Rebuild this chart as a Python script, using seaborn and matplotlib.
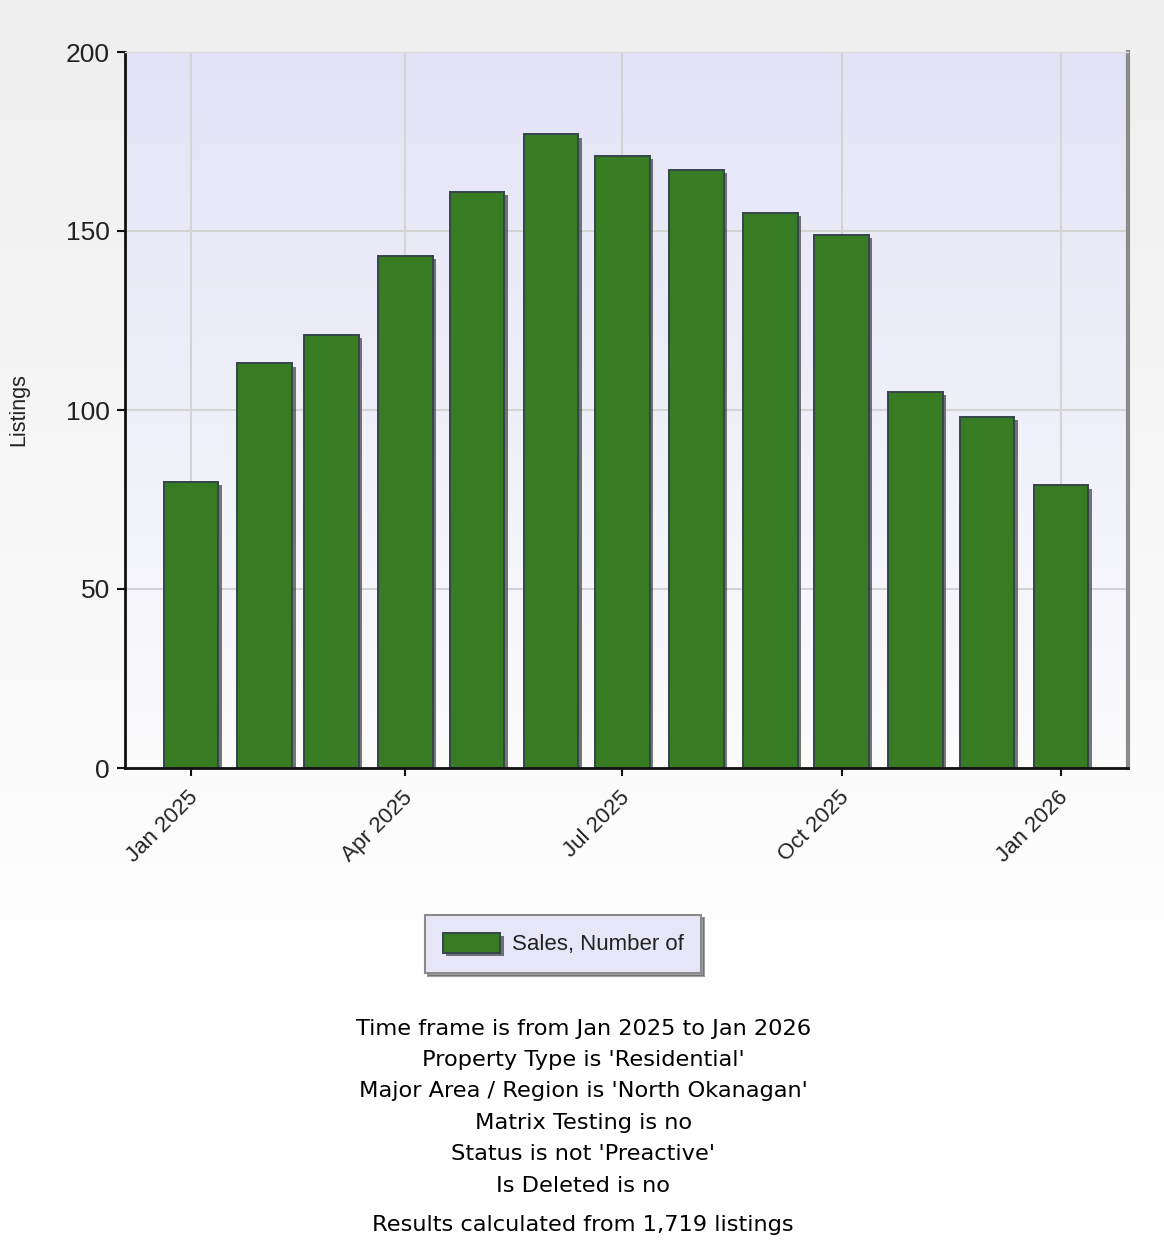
import numpy as np
import pandas as pd
import matplotlib
matplotlib.use('Agg')
import matplotlib.pyplot as plt
import matplotlib.dates as mdates
import matplotlib.patheffects as pe
import matplotlib.transforms as mtransforms
from matplotlib.colors import to_rgb
import seaborn as sns

# Monthly sales counts (North Okanagan, residential)
months = ['2025-01', '2025-02', '2025-03', '2025-04', '2025-05', '2025-06', '2025-07',
          '2025-08', '2025-09', '2025-10', '2025-11', '2025-12', '2026-01']
sales = [80, 113, 121, 143, 161, 177, 171, 167, 155, 149, 105, 98, 79]
series_name = 'Sales, Number of'
y_ticks = [0, 50, 100, 150, 200]
footer = ["Time frame is from Jan 2025 to Jan 2026",
          "Property Type is 'Residential'",
          "Major Area / Region is 'North Okanagan'",
          "Matrix Testing is no",
          "Status is not 'Preactive'",
          "Is Deleted is no"]
footer_last = "Results calculated from 1,719 listings"

df = pd.DataFrame({'date': mdates.date2num(pd.to_datetime(months)), 'sales': sales})

sns.set_style('white')
plt.rcParams['font.family'] = ['Liberation Sans', 'DejaVu Sans']

fig = plt.figure(figsize=(11.64, 12.6), dpi=100)
fig.patch.set_facecolor('white')

# Figure background gradient (light grey at top fading to white)
bg = fig.add_axes([0, 0, 1, 1], zorder=-5)
t = np.linspace(0, 1, 400)[:, None]
w = np.clip(t / 0.78, 0, 1)
top_c = np.array(to_rgb('#efefef'))
grad = top_c * (1 - w[..., None]) + np.ones(3) * w[..., None]
grad = np.repeat(grad, 2, axis=1)
bg.imshow(grad, aspect='auto', extent=[0, 1, 0, 1])
bg.axis('off')

ax = fig.add_axes([125 / 1164, 1 - 768 / 1260, 1003 / 1164, 716 / 1260])

# Plot-area gradient (lavender to near white)
t2 = np.linspace(0, 1, 400)[:, None]
c1 = np.array(to_rgb('#e3e3f7'))
c2 = np.array(to_rgb('#fcfcfd'))
grad2 = c1 * (1 - t2[..., None]) + c2 * t2[..., None]
grad2 = np.repeat(grad2, 2, axis=1)
ax.imshow(grad2, aspect='auto', extent=[0, 1, 0, 1], transform=ax.transAxes, zorder=0)

sns.barplot(data=df, x='date', y='sales', native_scale=True, width=0.82,
            color='#377c22', saturation=1, edgecolor='#34454c', linewidth=1.4,
            label=series_name, ax=ax, zorder=2)

shadow = [pe.SimplePatchShadow(offset=(2.4, -2.4), shadow_rgbFace='#3c3c3c', alpha=0.7), pe.Normal()]
for p in ax.patches:
    p.set_path_effects(shadow)

ax.set_xlim(mdates.date2num(pd.Timestamp('2024-12-04 08:00')),
            mdates.date2num(pd.Timestamp('2026-01-29 03:00')))
ax.set_ylim(0, 200)
ax.set_yticks(y_ticks)
ax.xaxis.set_major_locator(mdates.MonthLocator(bymonth=[1, 4, 7, 10]))
ax.xaxis.set_major_formatter(mdates.DateFormatter('%b %Y'))

ax.grid(True, color='#d4d4d4', linewidth=1.5, zorder=1)
ax.set_axisbelow(True)

for s in ['left', 'bottom']:
    ax.spines[s].set_color('#111111')
    ax.spines[s].set_linewidth(2)
ax.spines['right'].set_color('#8a8a8a')
ax.spines['right'].set_linewidth(3)
ax.spines['top'].set_color('#dcdcdc')
ax.spines['top'].set_linewidth(1)

ax.tick_params(axis='both', direction='out', length=6, width=1.5, color='#111111',
               labelcolor='#222222', pad=5, left=True, bottom=True)
ax.tick_params(axis='y', labelsize=19)
ax.tick_params(axis='x', labelsize=16, pad=13)
shift = mtransforms.ScaledTranslation(4 / 100, 0, fig.dpi_scale_trans)
for lab in ax.get_xticklabels():
    lab.set_rotation(45)
    lab.set_ha('right')
    lab.set_va('center')
    lab.set_rotation_mode('anchor')
    lab.set_transform(lab.get_transform() + shift)

ax.set_xlabel('')
ax.set_ylabel('Listings', fontsize=15.5, color='#222222')
ax.yaxis.set_label_coords(-0.095, 0.5)

leg = ax.legend(loc='center', bbox_to_anchor=(563 / 1164, 1 - 944 / 1260), bbox_transform=fig.transFigure,
                facecolor='#e6e6f8', edgecolor='#8a8a8a', framealpha=1, fancybox=False, shadow=True,
                fontsize=16, handlelength=2.6, handleheight=1.0, handletextpad=0.5,
                borderpad=0.8, borderaxespad=0)
leg.get_frame().set_linewidth(1.5)
for txt in leg.get_texts():
    txt.set_color('#222222')

ys = [1029, 1060, 1091, 1123, 1154, 1186]
for line, yp in zip(footer, ys):
    fig.text(0.501, 1 - yp / 1260, line, ha='center', va='center', fontsize=16.2,
             family='DejaVu Sans', color='black')
fig.text(0.501, 1 - 1225 / 1260, footer_last, ha='center', va='center', fontsize=16.2,
         family='DejaVu Sans', color='black')

fig.savefig('out.png', dpi=100)
